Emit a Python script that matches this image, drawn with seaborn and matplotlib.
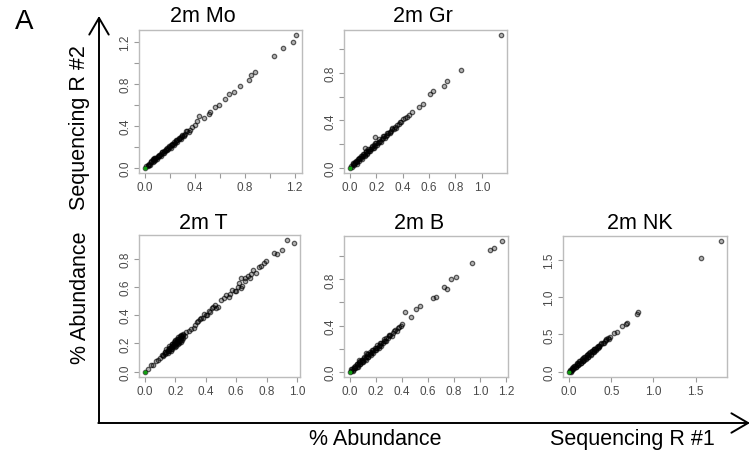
import numpy as np
import pandas as pd
import matplotlib
matplotlib.use('Agg')
import matplotlib.pyplot as plt
import seaborn as sns

# Panel titles
TITLES = ['2m Mo', '2m Gr', '2m T', '2m B', '2m NK']

# % abundance, sequencing run #1 (x) vs run #2 (y)
MO_X = [0.00, 0.01, 0.02, 0.03, 0.035, 0.045, 0.05, 0.06, 0.065, 0.075, 0.08, 0.09, 0.10, 0.105, 0.115,
        0.12, 0.13, 0.14, 0.145, 0.155, 0.16, 0.17, 0.18, 0.185, 0.195, 0.20, 0.21, 0.22, 0.225, 0.235,
        0.24, 0.25, 0.26, 0.27, 0.28, 0.29, 0.30, 0.31, 0.32, 0.34, 0.36, 0.38, 0.40, 0.42, 0.43, 0.47,
        0.51, 0.52, 0.56, 0.59, 0.64, 0.67, 0.71, 0.76, 0.83, 0.85, 0.88, 1.03, 1.11, 1.19, 1.21]
MO_Y = [0.00, 0.012, 0.018, 0.035, 0.03, 0.05, 0.055, 0.058, 0.07, 0.08, 0.075, 0.095, 0.10, 0.11, 0.112,
        0.125, 0.128, 0.145, 0.14, 0.16, 0.158, 0.172, 0.185, 0.18, 0.20, 0.195, 0.215, 0.218, 0.23, 0.24,
        0.235, 0.255, 0.262, 0.272, 0.285, 0.29, 0.305, 0.31, 0.325, 0.345, 0.36, 0.385, 0.41, 0.44, 0.49, 0.47,
        0.51, 0.53, 0.58, 0.60, 0.65, 0.70, 0.72, 0.78, 0.83, 0.88, 0.91, 1.06, 1.14, 1.195, 1.26]
MO_X2 = [0.02, 0.04, 0.05, 0.07, 0.08, 0.095, 0.11, 0.125, 0.135, 0.15, 0.165, 0.175, 0.19, 0.205, 0.215,
         0.23, 0.245, 0.255, 0.27, 0.285, 0.30, 0.315, 0.33, 0.35, 0.06, 0.07]
MO_Y2 = [0.03, 0.03, 0.065, 0.06, 0.095, 0.085, 0.125, 0.115, 0.15, 0.14, 0.18, 0.165, 0.205, 0.19, 0.23,
         0.22, 0.26, 0.245, 0.285, 0.275, 0.315, 0.305, 0.345, 0.34, 0.085, 0.09]

GR_X = [0.00, 0.008, 0.015, 0.02, 0.03, 0.035, 0.04, 0.05, 0.055, 0.06, 0.07, 0.075, 0.085, 0.09, 0.10,
        0.105, 0.115, 0.12, 0.13, 0.135, 0.145, 0.15, 0.16, 0.17, 0.175, 0.185, 0.19, 0.20, 0.21, 0.22,
        0.23, 0.24, 0.25, 0.26, 0.27, 0.28, 0.29, 0.30, 0.31, 0.32, 0.33, 0.34, 0.36, 0.38, 0.11, 0.19,
        0.40, 0.45, 0.47, 0.52, 0.55, 0.61, 0.63, 0.71, 0.735, 0.84, 1.145]
GR_Y = [0.00, 0.015, 0.01, 0.03, 0.035, 0.05, 0.04, 0.06, 0.05, 0.075, 0.07, 0.085, 0.08, 0.10, 0.095,
        0.115, 0.11, 0.13, 0.125, 0.14, 0.14, 0.155, 0.155, 0.175, 0.17, 0.19, 0.185, 0.205, 0.21, 0.22,
        0.23, 0.24, 0.25, 0.265, 0.27, 0.28, 0.29, 0.305, 0.31, 0.325, 0.33, 0.345, 0.36, 0.385, 0.17, 0.26,
        0.41, 0.45, 0.47, 0.51, 0.54, 0.62, 0.65, 0.69, 0.73, 0.83, 1.12]
GR_X2 = [0.02, 0.03, 0.045, 0.05, 0.065, 0.07, 0.08, 0.09, 0.10, 0.11, 0.12, 0.13, 0.14, 0.155, 0.165,
         0.18, 0.19, 0.205, 0.22, 0.235, 0.25, 0.265, 0.28, 0.30, 0.32, 0.35, 0.37, 0.39, 0.42, 0.43]
GR_Y2 = [0.04, 0.02, 0.06, 0.035, 0.085, 0.055, 0.10, 0.075, 0.12, 0.095, 0.14, 0.115, 0.16, 0.14, 0.185,
         0.165, 0.21, 0.19, 0.24, 0.22, 0.265, 0.25, 0.295, 0.29, 0.335, 0.34, 0.37, 0.385, 0.42, 0.425]

T_X = [0.00, 0.02, 0.04, 0.055, 0.07, 0.085, 0.10, 0.11, 0.12, 0.13, 0.135, 0.14, 0.15, 0.155, 0.16,
       0.165, 0.17, 0.175, 0.18, 0.185, 0.19, 0.195, 0.20, 0.205, 0.21, 0.215, 0.22, 0.225, 0.23, 0.235,
       0.24, 0.245, 0.25, 0.16, 0.18, 0.20, 0.22, 0.24, 0.25, 0.29, 0.32, 0.34, 0.36, 0.38, 0.40, 0.42,
       0.44, 0.46, 0.48, 0.50, 0.53, 0.56, 0.59, 0.61, 0.63, 0.63, 0.66, 0.68, 0.69, 0.71, 0.73, 0.76,
       0.795, 0.85, 0.87, 0.90, 0.935, 0.98]
T_Y = [0.00, 0.02, 0.045, 0.05, 0.075, 0.08, 0.10, 0.115, 0.12, 0.125, 0.14, 0.13, 0.15, 0.16, 0.15,
       0.17, 0.16, 0.18, 0.175, 0.19, 0.18, 0.20, 0.19, 0.21, 0.20, 0.22, 0.21, 0.23, 0.22, 0.24,
       0.23, 0.25, 0.24, 0.17, 0.195, 0.215, 0.235, 0.255, 0.26, 0.29, 0.31, 0.35, 0.37, 0.38, 0.40, 0.43,
       0.45, 0.47, 0.46, 0.51, 0.54, 0.55, 0.57, 0.60, 0.59, 0.66, 0.66, 0.68, 0.66, 0.72, 0.70, 0.75,
       0.78, 0.84, 0.83, 0.86, 0.93, 0.91]
T_X2 = [0.14, 0.15, 0.16, 0.17, 0.175, 0.18, 0.19, 0.195, 0.20, 0.205, 0.21, 0.215, 0.22, 0.225, 0.23,
        0.235, 0.24, 0.245, 0.25, 0.23, 0.21, 0.19, 0.17, 0.15, 0.13, 0.12, 0.26, 0.27, 0.30, 0.33,
        0.35, 0.37, 0.39, 0.41, 0.43, 0.45, 0.47, 0.52, 0.55, 0.57, 0.60, 0.62, 0.64, 0.66, 0.70, 0.75, 0.78]
T_Y2 = [0.16, 0.135, 0.18, 0.15, 0.195, 0.16, 0.21, 0.175, 0.225, 0.185, 0.235, 0.195, 0.245, 0.20, 0.255,
        0.21, 0.26, 0.225, 0.27, 0.24, 0.215, 0.195, 0.175, 0.155, 0.14, 0.11, 0.255, 0.28, 0.30, 0.33,
        0.36, 0.38, 0.41, 0.40, 0.42, 0.46, 0.45, 0.52, 0.53, 0.58, 0.57, 0.63, 0.61, 0.64, 0.69, 0.74, 0.77]

B_X = [0.00, 0.008, 0.015, 0.02, 0.03, 0.035, 0.04, 0.05, 0.055, 0.06, 0.07, 0.075, 0.08, 0.09, 0.095,
       0.10, 0.11, 0.115, 0.12, 0.13, 0.135, 0.14, 0.15, 0.16, 0.17, 0.18, 0.19, 0.20, 0.21, 0.22,
       0.23, 0.24, 0.25, 0.26, 0.27, 0.28, 0.29, 0.30, 0.31, 0.33, 0.35, 0.37, 0.39, 0.40, 0.42, 0.47,
       0.51, 0.54, 0.64, 0.66, 0.72, 0.75, 0.78, 0.815, 0.94, 1.08, 1.11, 1.17]
B_Y = [0.00, 0.01, 0.02, 0.015, 0.035, 0.03, 0.05, 0.045, 0.065, 0.055, 0.08, 0.07, 0.09, 0.085, 0.105,
       0.095, 0.12, 0.11, 0.125, 0.135, 0.13, 0.15, 0.15, 0.165, 0.17, 0.185, 0.19, 0.205, 0.21, 0.225,
       0.23, 0.245, 0.25, 0.27, 0.27, 0.29, 0.29, 0.31, 0.315, 0.335, 0.36, 0.375, 0.40, 0.41, 0.52, 0.47,
       0.54, 0.57, 0.64, 0.65, 0.73, 0.72, 0.80, 0.82, 0.94, 1.05, 1.07, 1.13]
B_X2 = [0.01, 0.02, 0.03, 0.04, 0.05, 0.06, 0.07, 0.08, 0.09, 0.10, 0.11, 0.12, 0.13, 0.14, 0.15,
        0.16, 0.17, 0.18, 0.19, 0.20, 0.21, 0.22, 0.23, 0.24, 0.26, 0.28, 0.30, 0.32, 0.34, 0.36,
        0.38, 0.12, 0.07]
B_Y2 = [0.02, 0.01, 0.045, 0.03, 0.065, 0.045, 0.085, 0.065, 0.105, 0.085, 0.13, 0.105, 0.15, 0.125, 0.17,
        0.145, 0.19, 0.165, 0.21, 0.185, 0.23, 0.205, 0.25, 0.225, 0.28, 0.27, 0.32, 0.31, 0.35, 0.35,
        0.39, 0.16, 0.10]

NK_X = [0.00, 0.01, 0.02, 0.03, 0.04, 0.05, 0.06, 0.07, 0.08, 0.09, 0.10, 0.11, 0.12, 0.13, 0.14,
        0.15, 0.16, 0.17, 0.18, 0.19, 0.20, 0.21, 0.22, 0.23, 0.24, 0.25, 0.26, 0.27, 0.28, 0.29,
        0.30, 0.31, 0.32, 0.33, 0.34, 0.35, 0.36, 0.38, 0.40, 0.42, 0.44, 0.46, 0.49, 0.53, 0.57,
        0.63, 0.67, 0.69, 0.80, 0.82, 1.56, 1.80]
NK_Y = [0.00, 0.015, 0.01, 0.035, 0.03, 0.06, 0.05, 0.08, 0.07, 0.10, 0.09, 0.12, 0.11, 0.14, 0.12,
        0.16, 0.14, 0.18, 0.16, 0.20, 0.18, 0.22, 0.20, 0.24, 0.22, 0.26, 0.24, 0.28, 0.26, 0.30,
        0.28, 0.31, 0.30, 0.33, 0.32, 0.35, 0.34, 0.37, 0.38, 0.41, 0.42, 0.45, 0.46, 0.52, 0.53,
        0.61, 0.64, 0.66, 0.77, 0.80, 1.52, 1.75]
NK_X2 = [0.01, 0.02, 0.03, 0.05, 0.06, 0.08, 0.09, 0.11, 0.12, 0.14, 0.15, 0.17, 0.18, 0.20, 0.21,
         0.23, 0.24, 0.26, 0.27, 0.29, 0.30, 0.32, 0.34, 0.36, 0.38, 0.41, 0.44, 0.47]
NK_Y2 = [0.025, 0.0, 0.045, 0.035, 0.075, 0.06, 0.115, 0.09, 0.145, 0.115, 0.175, 0.15, 0.20, 0.17, 0.23,
         0.20, 0.255, 0.23, 0.285, 0.26, 0.31, 0.29, 0.345, 0.33, 0.38, 0.39, 0.44, 0.44]

# tick positions and labels (R drops labels that would overlap)
TICKS_02_12 = [0.0, 0.2, 0.4, 0.6, 0.8, 1.0, 1.2]
TICKS_02_10 = [0.0, 0.2, 0.4, 0.6, 0.8, 1.0]
TICKS_02_08 = [0.0, 0.2, 0.4, 0.6, 0.8]
TICKS_05 = [0.0, 0.5, 1.0, 1.5]
LAB_12_SPARSE = ['0.0', '', '0.4', '', '0.8', '', '1.2']
LAB_12_ALL = ['0.0', '0.2', '0.4', '0.6', '0.8', '1.0', '1.2']
LAB_10_SPARSE = ['0.0', '', '0.4', '', '0.8', '']
LAB_10_ALL = ['0.0', '0.2', '0.4', '0.6', '0.8', '1.0']
LAB_08_ALL = ['0.0', '0.2', '0.4', '0.6', '0.8']
LAB_05 = ['0.0', '0.5', '1.0', '1.5']

sns.set_theme(style='white')
plt.rcParams['font.family'] = ['Liberation Sans', 'DejaVu Sans']

W, H = 751, 456
fig = plt.figure(figsize=(W / 100, H / 100), dpi=100)


def px_rect(left, top, right, bottom):
    return [left / W, 1 - bottom / H, (right - left) / W, (bottom - top) / H]


panels = [
    (MO_X + MO_X2, MO_Y + MO_Y2, (139, 31, 302, 174), (TICKS_02_12, LAB_12_SPARSE), (TICKS_02_12, LAB_12_SPARSE)),
    (GR_X + GR_X2, GR_Y + GR_Y2, (344, 31, 507, 174), (TICKS_02_10, LAB_10_ALL), (TICKS_02_10, LAB_10_SPARSE)),
    (T_X + T_X2, T_Y + T_Y2, (139, 236, 300, 378), (TICKS_02_10, LAB_10_ALL), (TICKS_02_08, LAB_08_ALL)),
    (B_X + B_X2, B_Y + B_Y2, (344, 237, 508, 378), (TICKS_02_12, LAB_12_ALL), (TICKS_02_10, LAB_10_SPARSE)),
    (NK_X + NK_X2, NK_Y + NK_Y2, (563, 237, 727, 378), (TICKS_05, LAB_05), (TICKS_05, LAB_05)),
]

for xs, ys, box, (xt, xl), (yt, yl) in panels:
    ax = fig.add_axes(px_rect(*box))
    df = pd.DataFrame({'x': xs, 'y': ys})
    sns.scatterplot(data=df, x='x', y='y', ax=ax, marker='o', s=10,
                    facecolor=(0, 0, 0, 0.3), edgecolor=(0, 0, 0, 0.6), linewidth=0.9)
    sns.scatterplot(x=df['x'][:1], y=df['y'][:1], ax=ax, color='#10a010', s=8,
                    linewidth=0)
    ax.set_xticks(xt, xl)
    ax.set_yticks(yt, yl)
    # R style 4% padding
    for vals, setter in ((df['x'], ax.set_xlim), (df['y'], ax.set_ylim)):
        lo, hi = vals.min(), vals.max()
        pad = 0.04 * (hi - lo)
        setter(lo - pad, hi + pad)
    ax.set_xlabel('')
    ax.set_ylabel('')
    ax.tick_params(bottom=True, left=True, length=3.5, width=0.8, color='#9a9a9a',
                   labelcolor='#4a4a4a', labelsize=8.5, pad=2, direction='out')
    for lab in ax.get_yticklabels():
        lab.set_rotation(90)
        lab.set_va('center')
    for sp in ax.spines.values():
        sp.set_color('#bcbcbc')
        sp.set_linewidth(1.0)

# overlay in pixel coordinates for arrows and labels
ov = fig.add_axes([0, 0, 1, 1])
ov.set_xlim(0, W)
ov.set_ylim(H, 0)
ov.axis('off')
ov.patch.set_alpha(0)

arrow = dict(arrowstyle='->, head_length=0.6, head_width=0.35', lw=1.4, color='black',
             mutation_scale=20, shrinkA=0, shrinkB=0)
ov.annotate('', xy=(99, 17), xytext=(99, 424), arrowprops=arrow)
ov.annotate('', xy=(750, 424), xytext=(98.3, 424), arrowprops=arrow)

title_pos = [(203, 17), (423, 17), (203, 224), (419, 224), (640, 224)]
for t, (tx, ty) in zip(TITLES, title_pos):
    ov.text(tx, ty, t, ha='center', va='center', fontsize=15.5, color='black')

ov.text(24, 22, 'A', ha='center', va='center', fontsize=20, color='black')
ov.text(375, 440, '% Abundance', ha='center', va='center', fontsize=15.5, color='black')
ov.text(632, 440, 'Sequencing R #1', ha='center', va='center', fontsize=15.5, color='black')
ov.text(80, 298, '% Abundance', ha='center', va='center', fontsize=15.5, rotation=90, color='black')
ov.text(80, 128, 'Sequencing R #2', ha='center', va='center', fontsize=15.5, rotation=90, color='black')

fig.savefig('out.png', dpi=100)
